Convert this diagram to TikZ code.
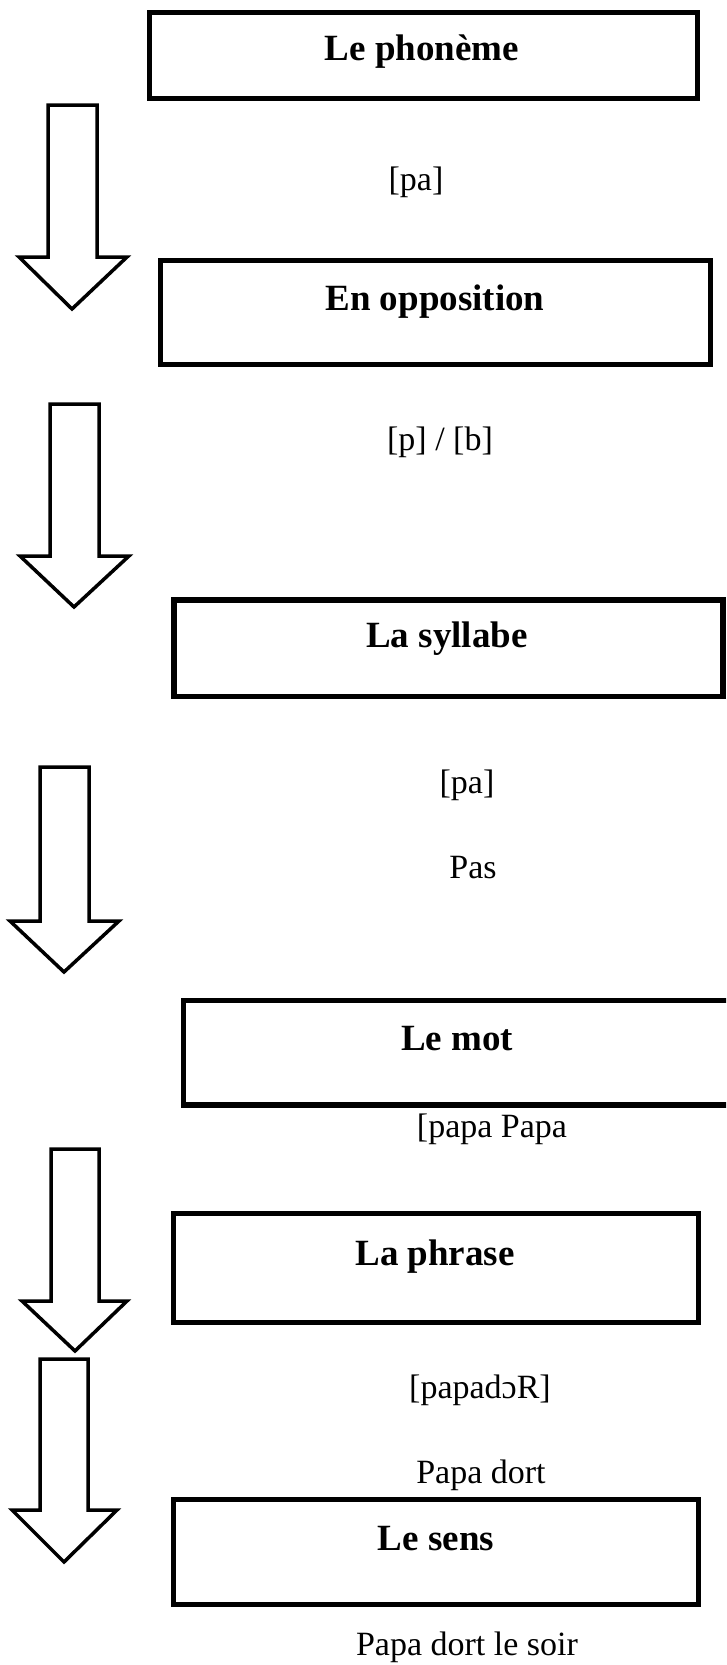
\documentclass[tikz,border=0pt]{standalone}
\usepackage{fontspec}
\setmainfont{Liberation Serif}
\begin{document}
\begin{tikzpicture}[x=1pt,y=-1pt,
  box/.style={draw, line width=5.5pt, inner sep=0pt},
  title/.style={font=\fontsize{37}{44}\selectfont\bfseries, anchor=base, inner sep=0pt},
  note/.style={font=\fontsize{34}{40}\selectfont, anchor=base, inner sep=0pt},
  blockarrow/.style={draw, line width=3.5pt, line join=miter, fill=white}]
\useasboundingbox (0,0) rectangle (726,1665);
\clip (0,0) rectangle (726,1665);
\fill[white] (0,0) rectangle (726,1665);
% boxes
\node[box, minimum width=548pt, minimum height=86pt] (b1) at (423.5,55.5) {};
\node[box, minimum width=550pt, minimum height=104pt] (b2) at (435.5,312.5) {};
\node[box, minimum width=549pt, minimum height=96.5pt] (b3) at (448.5,648.25) {};
\node[box, minimum width=547pt, minimum height=104.5pt] (b4) at (457,1052.75) {};
\node[box, minimum width=525pt, minimum height=109pt] (b5) at (436,1268) {};
\node[box, minimum width=525pt, minimum height=105pt] (b6) at (436,1552) {};
% titles
\node[title] (t1) at (422,60) {Le phonème};
\node[title] (t2) at (435,310) {En opposition};
\node[title] (t3) at (447,647) {La syllabe};
\node[title] (t4) at (457,1050) {Le mot};
\node[title] (t5) at (435,1265) {La phrase};
\node[title] (t6) at (436,1550) {Le sens};
% notes
\node[note] (n1) at (416,190) {[pa]};
\node[note] (n2) at (440,450) {[p] / [b]};
\node[note] (n3) at (467,793) {[pa]};
\node[note] (n4) at (473,878) {Pas};
\node[note] (n5) at (492,1137) {[papa Papa};
\node[note] (n6) at (480,1398) {[papadɔR]};
\node[note] (n7) at (481,1483) {Papa dort};
\node[note] (n8) at (467,1655) {Papa dort le soir};
% block arrows
\draw[blockarrow] (48,105) -- (97,105) -- (97,257) -- (127,257) -- (72,309) -- (19,257) -- (48,257) -- cycle;
\draw[blockarrow] (50,404) -- (99,404) -- (99,556) -- (129,556) -- (74,607) -- (20,556) -- (50,556) -- cycle;
\draw[blockarrow] (40,767) -- (89,767) -- (89,921) -- (119,921) -- (64,972) -- (10,921) -- (40,921) -- cycle;
\draw[blockarrow] (40,1359) -- (88,1359) -- (88,1510) -- (117,1510) -- (64,1562) -- (12,1510) -- (40,1510) -- cycle;
\draw[blockarrow] (51,1149) -- (99,1149) -- (99,1301) -- (127,1301) -- (75,1351) -- (22,1301) -- (51,1301) -- cycle;
\end{tikzpicture}
\end{document}
